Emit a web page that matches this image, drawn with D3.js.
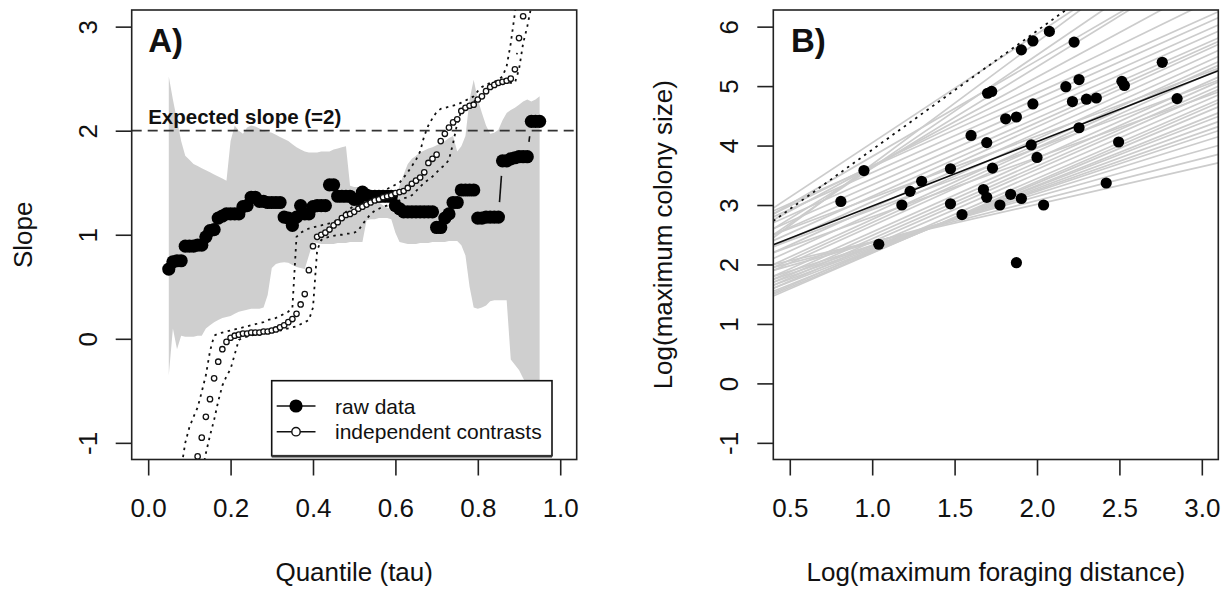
<!DOCTYPE html>
<html><head><meta charset="utf-8">
<script src="https://cdn.jsdelivr.net/npm/d3@7/dist/d3.min.js"></script>
<style>body{margin:0;background:#fff} svg{display:block;font-family:"Liberation Sans",Arial,Helvetica,sans-serif}</style>
</head><body><svg id="c" width="1231" height="593"></svg>
<script>
// ---------- Panel A data ----------
const tau = [0.05,0.06,0.07,0.08,0.09,0.10,0.11,0.12,0.13,0.14,0.15,0.16,0.17,0.18,0.19,0.20,0.21,0.22,0.23,0.24,0.25,0.26,0.27,0.28,0.29,0.30,0.31,0.32,0.33,0.34,0.35,0.36,0.37,0.38,0.39,0.40,0.41,0.42,0.43,0.44,0.45,0.46,0.47,0.48,0.49,0.50,0.51,0.52,0.53,0.54,0.55,0.56,0.57,0.58,0.59,0.60,0.61,0.62,0.63,0.64,0.65,0.66,0.67,0.68,0.69,0.70,0.71,0.72,0.73,0.74,0.75,0.76,0.77,0.78,0.79,0.80,0.81,0.82,0.83,0.84,0.85,0.86,0.87,0.88,0.89,0.90,0.91,0.92,0.93,0.94,0.95];
const rawSlope = [0.67,0.74,0.75,0.75,0.89,0.89,0.89,0.90,0.90,0.98,1.04,1.05,1.16,1.18,1.20,1.20,1.20,1.20,1.27,1.28,1.36,1.36,1.32,1.32,1.31,1.31,1.31,1.31,1.17,1.16,1.09,1.17,1.28,1.20,1.20,1.27,1.28,1.28,1.28,1.48,1.48,1.37,1.37,1.37,1.37,1.34,1.34,1.41,1.38,1.37,1.37,1.37,1.37,1.37,1.37,1.28,1.25,1.22,1.22,1.22,1.22,1.22,1.22,1.22,1.22,1.07,1.07,1.16,1.20,1.31,1.31,1.43,1.43,1.43,1.43,1.16,1.16,1.17,1.17,1.17,1.17,1.71,1.71,1.73,1.74,1.75,1.75,1.75,2.09,2.09,2.09];
const rawUpper = [2.52,2.30,2.10,1.90,1.76,1.72,1.68,1.66,1.64,1.62,1.60,1.58,1.56,1.54,1.52,1.90,2.05,2.00,1.97,2.03,2.05,2.04,2.02,2.00,1.99,1.98,1.96,1.94,1.92,1.90,1.87,1.84,1.82,1.80,1.79,1.79,1.79,1.80,1.80,1.80,1.82,1.83,1.84,1.85,1.47,1.46,1.46,1.45,1.44,1.40,1.36,1.31,1.28,1.26,1.25,1.33,1.47,1.58,1.68,1.73,1.76,1.79,1.81,1.83,1.84,1.86,1.88,1.90,1.93,1.95,1.80,1.85,1.95,2.30,2.49,2.30,2.17,2.05,1.97,1.98,2.01,2.10,2.17,2.20,2.22,2.25,2.28,2.30,2.28,2.30,2.33];
const rawLower = [-0.35,0.10,-0.10,0.03,0.02,0.02,0.02,0.03,0.03,0.10,0.13,0.16,0.18,0.20,0.21,0.22,0.24,0.26,0.27,0.28,0.29,0.29,0.29,0.30,0.42,0.68,0.72,0.73,0.735,0.73,0.71,0.69,0.68,0.67,0.80,0.93,0.92,0.91,0.91,0.91,0.91,0.92,0.92,0.92,0.93,0.93,0.93,0.93,1.14,1.15,1.15,1.16,1.16,1.16,1.15,1.02,0.93,0.92,0.91,0.91,0.91,0.92,0.92,0.92,0.93,0.93,0.93,0.93,0.94,0.94,0.94,0.90,0.80,0.50,0.30,0.29,0.30,0.32,0.36,0.37,0.37,0.37,0.37,-0.20,-0.25,-0.30,-0.38,-0.45,-0.50,-0.58,-0.62];
const icSlope = [-2.6,-2.4,-2.2,-1.9,-1.7,-1.5,-1.3,-1.13,-0.95,-0.75,-0.58,-0.38,-0.22,-0.10,-0.03,0.01,0.03,0.04,0.05,0.05,0.06,0.06,0.06,0.07,0.07,0.08,0.09,0.11,0.13,0.16,0.19,0.24,0.33,0.43,0.66,0.89,0.98,1.00,1.02,1.05,1.09,1.12,1.16,1.19,1.20,1.22,1.25,1.27,1.29,1.31,1.33,1.34,1.36,1.37,1.38,1.40,1.41,1.42,1.45,1.49,1.52,1.55,1.60,1.69,1.73,1.77,1.90,1.97,2.03,2.08,2.11,2.19,2.22,2.24,2.25,2.30,2.33,2.38,2.42,2.44,2.46,2.47,2.48,2.50,2.59,2.89,3.10,3.45,3.80,4.10,4.40];
const icUpper = [-2.0,-1.8,-1.5,-1.25,-1.0,-0.85,-0.75,-0.66,-0.51,-0.35,-0.12,0.03,0.05,0.06,0.07,0.08,0.09,0.10,0.11,0.12,0.13,0.14,0.15,0.16,0.18,0.19,0.20,0.22,0.24,0.26,0.30,0.98,1.02,1.04,1.06,1.07,1.08,1.09,1.10,1.11,1.12,1.15,1.18,1.22,1.25,1.28,1.30,1.33,1.35,1.36,1.38,1.40,1.42,1.44,1.46,1.48,1.50,1.55,1.60,1.66,1.72,1.80,1.95,2.05,2.12,2.18,2.21,2.22,2.23,2.24,2.25,2.27,2.29,2.31,2.33,2.38,2.42,2.44,2.46,2.47,2.49,2.52,2.62,2.84,3.13,3.50,3.90,4.30,4.70,5.10,5.50];
const icLower = [-3.5,-3.2,-2.9,-2.6,-2.3,-2.0,-1.75,-1.5,-1.3,-1.1,-0.93,-0.78,-0.60,-0.45,-0.36,-0.29,-0.15,-0.01,0.01,0.02,0.03,0.04,0.04,0.05,0.06,0.07,0.08,0.08,0.09,0.10,0.11,0.12,0.14,0.16,0.18,0.30,0.85,0.95,0.97,0.98,0.99,1.00,1.00,1.01,1.01,1.02,1.04,1.10,1.15,1.20,1.23,1.25,1.27,1.28,1.30,1.32,1.33,1.35,1.36,1.38,1.42,1.46,1.50,1.53,1.56,1.60,1.64,1.67,1.72,1.88,2.07,2.19,2.23,2.26,2.28,2.30,2.33,2.36,2.40,2.43,2.46,2.46,2.46,2.46,2.46,2.59,2.84,3.00,3.20,3.50,3.80];
const expectedSlope = 2;
const xTicksA = [0, 0.2, 0.4, 0.6, 0.8, 1.0];
const xTickLabelsA = ["0.0","0.2","0.4","0.6","0.8","1.0"];
const yTicksA = [-1, 0, 1, 2, 3];
const yTickLabelsA = ["-1","0","1","2","3"];
const legendLabels = ["raw data", "independent contrasts"];

// ---------- Panel B data ----------
const logForaging = [0.81,0.95,1.04,1.18,1.23,1.30,1.475,1.475,1.545,1.60,1.675,1.695,1.695,1.70,1.725,1.73,1.775,1.81,1.84,1.875,1.875,1.905,1.905,1.965,1.975,1.975,2.00,2.04,2.075,2.175,2.215,2.225,2.255,2.255,2.30,2.36,2.42,2.495,2.515,2.53,2.76,2.85];
const logColony   = [3.06,3.58,2.34,3.00,3.23,3.40,3.61,3.02,2.84,4.17,3.26,4.05,3.13,4.88,4.91,3.62,3.00,4.45,3.18,4.48,2.03,5.61,3.11,4.01,5.76,4.70,3.80,3.00,5.92,4.99,4.74,5.74,5.11,4.30,4.78,4.80,3.37,4.06,5.08,5.01,5.40,4.79];
const qrIntercept = [1.747,1.669,1.589,1.452,1.379,1.312,1.243,1.172,1.106,1.033,0.988,1.038,1.118,1.162,1.211,1.258,1.304,1.399,1.446,1.495,1.596,1.696,1.796,1.904,2.010,2.108,2.207,2.304,2.404,2.309,2.150,2.206,2.218,1.918,1.744,1.628,1.885,2.085,1.800];
const qrSlope     = [0.633,0.704,0.778,0.870,0.926,0.970,1.019,1.070,1.111,1.167,1.204,1.204,1.204,1.219,1.222,1.230,1.241,1.252,1.259,1.263,1.259,1.259,1.259,1.241,1.226,1.230,1.233,1.241,1.241,1.352,1.500,1.611,1.830,1.704,1.889,2.056,1.037,1.037,1.000];
const fitIntercept = 1.896, fitSlope = 1.085;
const refIntercept = 1.93, refSlope = 2.0;
const xTicksB = [0.5, 1.0, 1.5, 2.0, 2.5, 3.0];
const xTickLabelsB = ["0.5","1.0","1.5","2.0","2.5","3.0"];
const yTicksB = [-1, 0, 1, 2, 3, 4, 5, 6];
const yTickLabelsB = ["-1","0","1","2","3","4","5","6"];

// ---------- Drawing ----------
const svg = d3.select("#c");
const FS = 26;
const BOX_A = {l:131.7, r:576.7, t:10, b:459.5};
const BOX_B = {l:773.3, r:1218.3, t:10, b:459.5};

const xA = d3.scaleLinear().domain([-0.04, 1.04]).range([BOX_A.l, BOX_A.r]);
const yA = d3.scaleLinear().domain([-1.16, 3.16]).range([BOX_A.b, BOX_A.t]);
const xB = d3.scaleLinear().domain([0.4, 3.1]).range([BOX_B.l, BOX_B.r]);
const yB = d3.scaleLinear().domain([-1.28, 6.28]).range([BOX_B.b, BOX_B.t]);

const defs = svg.append("defs");
defs.append("clipPath").attr("id","clipA").append("rect")
  .attr("x",BOX_A.l).attr("y",BOX_A.t).attr("width",BOX_A.r-BOX_A.l).attr("height",BOX_A.b-BOX_A.t);
defs.append("clipPath").attr("id","clipB").append("rect")
  .attr("x",BOX_B.l).attr("y",BOX_B.t).attr("width",BOX_B.r-BOX_B.l).attr("height",BOX_B.b-BOX_B.t);

function drawAxes(box, xs, ys, xt, xl, yt, yl, xTitle, yTitle, yTitleX) {
  const gx = svg.append("g").attr("transform", `translate(0,${box.b})`)
    .call(d3.axisBottom(xs).tickValues(xt).tickFormat((d,i)=>xl[i]).tickSize(16).tickSizeOuter(0));
  gx.select(".domain").remove();
  gx.selectAll(".tick line").attr("stroke","#222").attr("stroke-width",1.6);
  gx.selectAll(".tick text").attr("y",57.5).attr("dy",0).attr("font-size",FS).attr("fill","#111")
    .attr("font-family",'"Liberation Sans",Arial,sans-serif');
  const gy = svg.append("g").attr("transform", `translate(${box.l},0)`)
    .call(d3.axisLeft(ys).tickValues(yt).tickFormat((d,i)=>yl[i]).tickSize(16).tickSizeOuter(0));
  gy.select(".domain").remove();
  gy.selectAll(".tick line").attr("stroke","#222").attr("stroke-width",1.6);
  gy.selectAll(".tick text").attr("transform","rotate(-90)").attr("x",0).attr("y",-35).attr("dy",0)
    .attr("text-anchor","middle").attr("font-size",FS).attr("fill","#111")
    .attr("font-family",'"Liberation Sans",Arial,sans-serif');
  svg.append("text").attr("x",(box.l+box.r)/2).attr("y",581).attr("text-anchor","middle")
    .attr("font-size",FS).attr("fill","#111").text(xTitle);
  svg.append("text").attr("transform",`translate(${yTitleX},${(box.t+box.b)/2}) rotate(-90)`)
    .attr("text-anchor","middle").attr("font-size",FS).attr("fill","#111").text(yTitle);
}

function typeBSegments(g, xs, ys, xsVals, yVals, gap) {
  for (let i = 0; i < xsVals.length - 1; i++) {
    const x0 = xs(xsVals[i]), y0 = ys(yVals[i]), x1 = xs(xsVals[i+1]), y1 = ys(yVals[i+1]);
    const d = Math.hypot(x1-x0, y1-y0);
    if (d > 2*gap) {
      const ux = (x1-x0)/d, uy = (y1-y0)/d;
      g.append("line").attr("x1",x0+ux*gap).attr("y1",y0+uy*gap).attr("x2",x1-ux*gap).attr("y2",y1-uy*gap)
        .attr("stroke","#111").attr("stroke-width",1.6);
    }
  }
}

// ---- Panel A ----
const gA = svg.append("g").attr("clip-path","url(#clipA)");
const bandData = tau.map((t,i)=>({t, lo: rawLower[i], hi: rawUpper[i]}));
gA.append("path").datum(bandData)
  .attr("d", d3.area().x(d=>xA(d.t)).y0(d=>yA(d.lo)).y1(d=>yA(d.hi)))
  .attr("fill","#cfcfcf");
gA.append("line").attr("x1",BOX_A.l).attr("x2",BOX_A.r).attr("y1",yA(expectedSlope)).attr("y2",yA(expectedSlope))
  .attr("stroke","#333").attr("stroke-width",1.8).attr("stroke-dasharray","10,6");
const lineA = d3.line().x((d,i)=>xA(tau[i])).y(d=>yA(d));
[icUpper, icLower].forEach(arr => {
  gA.append("path").datum(arr).attr("d", lineA).attr("fill","none")
    .attr("stroke","#111").attr("stroke-width",1.8).attr("stroke-dasharray","2.5,4.5");
});
typeBSegments(gA, xA, yA, tau, rawSlope, 15);
typeBSegments(gA, xA, yA, tau, icSlope, 15);
gA.selectAll("circle.raw").data(rawSlope).join("circle").attr("class","raw")
  .attr("cx",(d,i)=>xA(tau[i])).attr("cy",d=>yA(d)).attr("r",6.6).attr("fill","#000");
gA.selectAll("circle.ic").data(icSlope).join("circle").attr("class","ic")
  .attr("cx",(d,i)=>xA(tau[i])).attr("cy",d=>yA(d)).attr("r",2.7).attr("fill","#fff")
  .attr("stroke","#111").attr("stroke-width",1.3);

svg.append("text").attr("x",xA(0)).attr("y",yA(expectedSlope)-7).attr("font-size",20.5).attr("font-weight","bold")
  .attr("fill","#111").text("Expected slope (=2)");
svg.append("text").attr("x",xA(0)).attr("y",52).attr("font-size",33).attr("font-weight","bold")
  .attr("fill","#111").text("A)");

// legend
const lg = svg.append("g");
lg.append("rect").attr("x",271.7).attr("y",380.7).attr("width",280.3).attr("height",75)
  .attr("fill","#fff").attr("stroke","#111").attr("stroke-width",1.6);
lg.append("line").attr("x1",271.7).attr("x2",552).attr("y1",456.2).attr("y2",456.2).attr("stroke","#333").attr("stroke-width",2.4);
const legY = [406, 431.7];
legY.forEach((yy,i)=>{
  lg.append("line").attr("x1",276.7).attr("x2",315.5).attr("y1",yy).attr("y2",yy).attr("stroke","#111").attr("stroke-width",1.6);
  if (i===0) lg.append("circle").attr("cx",296).attr("cy",yy).attr("r",6.6).attr("fill","#000");
  else lg.append("circle").attr("cx",296).attr("cy",yy).attr("r",4.2).attr("fill","#fff").attr("stroke","#111").attr("stroke-width",1.4);
  lg.append("text").attr("x",335).attr("y",yy+7.5).attr("font-size",21).attr("fill","#111").text(legendLabels[i]);
});

svg.append("rect").attr("x",BOX_A.l).attr("y",BOX_A.t).attr("width",BOX_A.r-BOX_A.l).attr("height",BOX_A.b-BOX_A.t)
  .attr("fill","none").attr("stroke","#222").attr("stroke-width",1.6);
drawAxes(BOX_A, xA, yA, xTicksA, xTickLabelsA, yTicksA, yTickLabelsA, "Quantile (tau)", "Slope", 32);

// ---- Panel B ----
const gB = svg.append("g").attr("clip-path","url(#clipB)");
const x0B = xB.domain()[0], x1B = xB.domain()[1];
gB.selectAll("line.qr").data(qrIntercept).join("line").attr("class","qr")
  .attr("x1",xB(x0B)).attr("x2",xB(x1B))
  .attr("y1",(a,i)=>yB(a+qrSlope[i]*x0B)).attr("y2",(a,i)=>yB(a+qrSlope[i]*x1B))
  .attr("stroke","#cccccc").attr("stroke-width",1.7);
gB.append("line").attr("x1",xB(x0B)).attr("x2",xB(x1B))
  .attr("y1",yB(fitIntercept+fitSlope*x0B)).attr("y2",yB(fitIntercept+fitSlope*x1B))
  .attr("stroke","#111").attr("stroke-width",1.6);
gB.append("line").attr("x1",xB(x0B)).attr("x2",xB(x1B))
  .attr("y1",yB(refIntercept+refSlope*x0B)).attr("y2",yB(refIntercept+refSlope*x1B))
  .attr("stroke","#111").attr("stroke-width",1.8).attr("stroke-dasharray","2.5,4.5");
gB.selectAll("circle.pt").data(logColony).join("circle").attr("class","pt")
  .attr("cx",(d,i)=>xB(logForaging[i])).attr("cy",d=>yB(d)).attr("r",5.6).attr("fill","#000");
svg.append("text").attr("x",791).attr("y",52).attr("font-size",33).attr("font-weight","bold")
  .attr("fill","#111").text("B)");
svg.append("rect").attr("x",BOX_B.l).attr("y",BOX_B.t).attr("width",BOX_B.r-BOX_B.l).attr("height",BOX_B.b-BOX_B.t)
  .attr("fill","none").attr("stroke","#222").attr("stroke-width",1.6);
drawAxes(BOX_B, xB, yB, xTicksB, xTickLabelsB, yTicksB, yTickLabelsB, "Log(maximum foraging distance)", "Log(maximum colony size)", 672);
</script></body></html>
